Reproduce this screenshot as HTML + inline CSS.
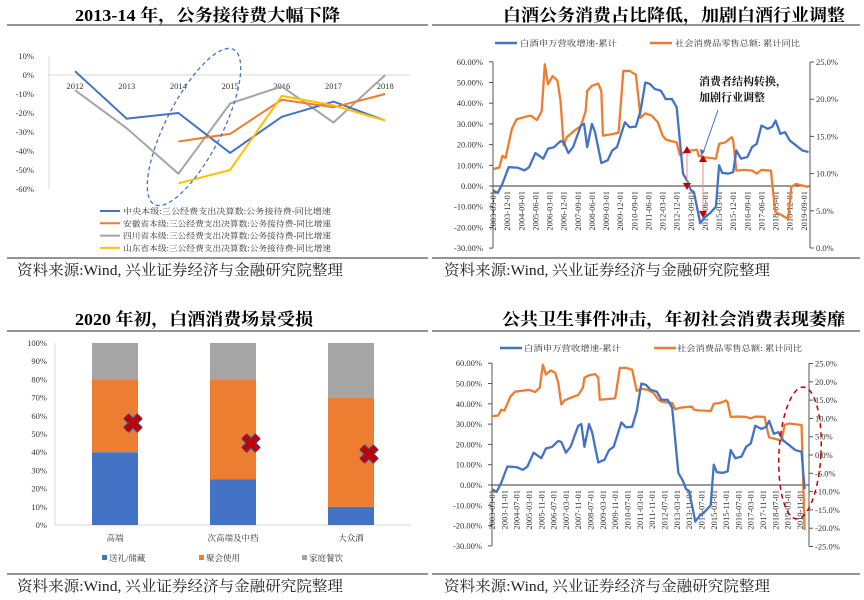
<!DOCTYPE html>
<html><head><meta charset="utf-8">
<style>
html,body{margin:0;padding:0;background:#fff;}
svg{display:block;font-family:"Liberation Serif","Noto Serif CJK SC",serif;}
.t{font-weight:bold;font-size:17px;fill:#000;}
.src{font-size:15px;fill:#222;}
.tk{font-size:8.5px;fill:#333;}
.lg{font-size:8px;fill:#333;}
</style></head>
<body>
<svg id="root" width="864" height="600" viewBox="0 0 864 600" xmlns="http://www.w3.org/2000/svg">
  <rect width="864" height="600" fill="#fff"/>
  <!-- titles -->
  <text class="t" x="75" y="21" textLength="265" lengthAdjust="spacingAndGlyphs">2013-14 年，公务接待费大幅下降</text>
  <text class="t" x="503" y="21" textLength="342" lengthAdjust="spacingAndGlyphs">白酒公务消费占比降低，加剧白酒行业调整</text>
  <text class="t" x="75" y="325" textLength="238" lengthAdjust="spacingAndGlyphs">2020 年初，白酒消费场景受损</text>
  <text class="t" x="502" y="325" textLength="343" lengthAdjust="spacingAndGlyphs">公共卫生事件冲击，年初社会消费表现萎靡</text>
  <!-- rules -->
  <g stroke="#555" stroke-width="1.2">
    <line x1="7" y1="25" x2="428" y2="25"/><line x1="432" y1="25" x2="860" y2="25"/>
    <line x1="7" y1="258" x2="428" y2="258"/><line x1="432" y1="258" x2="860" y2="258"/>
    <line x1="7" y1="331" x2="428" y2="331"/><line x1="432" y1="331" x2="860" y2="331"/>
    <line x1="7" y1="574" x2="428" y2="574"/><line x1="432" y1="574" x2="860" y2="574"/>
  </g>
  <!-- sources -->
  <text class="src" x="17" y="275" textLength="326" lengthAdjust="spacingAndGlyphs">资料来源:Wind, 兴业证券经济与金融研究院整理</text>
  <text class="src" x="444" y="275" textLength="326" lengthAdjust="spacingAndGlyphs">资料来源:Wind, 兴业证券经济与金融研究院整理</text>
  <text class="src" x="17" y="591" textLength="326" lengthAdjust="spacingAndGlyphs">资料来源:Wind, 兴业证券经济与金融研究院整理</text>
  <text class="src" x="444" y="591" textLength="326" lengthAdjust="spacingAndGlyphs">资料来源:Wind, 兴业证券经济与金融研究院整理</text>

  <g id="c1"></g>
  <g id="c2"></g>
  <g id="c3"></g>
  <g id="c4"></g>

  <!-- annotations -->
  <ellipse cx="194" cy="127" rx="28" ry="87" transform="rotate(27 194 127)" fill="none" stroke="#4472C4" stroke-width="1.3" stroke-dasharray="4,3"/>
  <text x="699" y="85" font-size="11" font-weight="bold" fill="#111">消费者结构转换，</text>
  <text x="699" y="101" font-size="11" font-weight="bold" fill="#111">加剧行业调整</text>
  <line x1="718" y1="110" x2="703" y2="153" stroke="#4472C4" stroke-width="1"/>
  <polygon points="701,156 700,149 705,151" fill="#4472C4"/>
  <g>
    <line x1="687" y1="150" x2="687" y2="185" stroke="#E88" stroke-width="1"/>
    <polygon points="683,153 691,153 687,146" fill="#C00000"/>
    <polygon points="683,183 691,183 687,190" fill="#C00000"/>
    <line x1="703" y1="159" x2="703" y2="213" stroke="#E88" stroke-width="1"/>
    <polygon points="699,162 707,162 703,155" fill="#C00000"/>
    <polygon points="699,211 707,211 703,218" fill="#C00000"/>
  </g>
  <ellipse cx="800" cy="453" rx="21" ry="66" transform="rotate(3 800 453)" fill="none" stroke="#C00000" stroke-width="1.5" stroke-dasharray="5,4"/>
</svg>
<script>
// ---------- Chart 1 data ----------
const c1Years = ["2012","2013","2014","2015","2016","2017","2018"];
const c1Central = [2,-23,-20,-41,-22,-14,-24];
const c1Anhui = [null,null,-35,-31,-13,-17,-10];
const c1Sichuan = [-8,-28,-52,-15,-6,-25,0];
const c1Shandong = [null,null,-57,-50,-11,-16,-24];
const c1Ticks = [10,0,-10,-20,-30,-40,-50,-60];
const c1Names = ["中央本级:三公经费支出决算数:公务接待费-同比增速","安徽省本级:三公经费支出决算数:公务接待费-同比增速","四川省本级:三公经费支出决算数:公务接待费-同比增速","山东省本级:三公经费支出决算数:公务接待费-同比增速"];

// ---------- Chart 2/4 data ----------
const baijiuDates = ["2003-03","2003-06","2003-09","2004-01","2004-07","2004-11","2005-02","2005-06","2005-11","2006-02","2006-06","2006-10","2006-12","2007-03","2007-06","2007-11","2008-01","2008-03","2008-06","2008-08","2008-12","2009-04","2009-07","2009-10","2010-03","2010-06","2010-10","2011-01","2011-04","2011-07","2011-10","2012-02","2012-05","2012-09","2012-12","2013-03","2013-04","2013-07","2013-09","2013-11","2014-03","2014-06","2014-09","2015-01","2015-03","2015-05","2015-09","2015-12","2016-02","2016-05","2016-09","2016-12","2017-03","2017-06","2017-10","2018-01","2018-03","2018-06","2018-09","2018-12","2019-04","2019-08","2019-12"];
const baijiuValues = [-2.1,-3.4,1.1,9.1,8.8,7.5,9.1,15.9,13.2,18,18.8,21.7,21.2,15.9,18.8,29.2,30,18.8,30,26,11.1,12.4,17.2,18.8,30.8,28.4,28.7,36.4,50,49.3,46.9,46,42,42,38,14,6,2,-2,-3,-18,-15,-13.3,-10,10,6.3,6,6.7,17.2,13.2,14,18.8,20.4,29.2,27.6,28.7,31.6,25.2,26,22,19.6,17.2,16.4];
const retailDates = ["2003-03","2003-07","2003-09","2003-11","2004-03","2004-06","2004-11","2005-03","2005-07","2005-10","2005-12","2006-02","2006-05","2006-08","2006-10","2006-12","2007-02","2007-07","2007-11","2008-02","2008-03","2008-06","2008-10","2008-12","2009-01","2009-07","2009-11","2010-02","2010-06","2010-10","2011-01","2011-04","2011-08","2011-12","2012-03","2012-05","2012-08","2012-12","2013-02","2013-05","2013-09","2014-01","2014-02","2014-05","2014-10","2015-01","2015-03","2015-07","2015-11","2015-12","2016-02","2016-07","2016-12","2017-03","2017-06","2017-12","2018-02","2018-03","2018-07","2018-11","2019-01","2019-04","2019-08","2019-12"];
const retailValues = [10.6,10.8,12.4,12.1,16,17.3,17.6,17.8,17.2,18.4,24.7,22,23.1,22.5,19.8,13.8,14.9,15.8,16.4,18.4,21.1,21.8,22.1,21.1,15.1,15.3,15.5,23.8,23.8,23.3,17.5,18.1,17.8,16.9,15.1,14.6,14.4,14.2,12.5,12.9,13.1,13.2,12.4,12.2,12.1,12,14,14.2,14.9,14.4,10.4,10.5,10.4,10,10.5,10.4,6.4,4.8,4.4,3.9,8.2,8.6,8.4,8.2];
const c4ExtraDates = ["2020-02"];
const c4ExtraBaijiu = [-2];
const c4ExtraRetail = [-20.5];
const c2LeftTicks = [60,50,40,30,20,10,0,-10,-20,-30];
const c2RightTicks = [25,20,15,10,5,0];
const c4RightTicks = [25,20,15,10,5,0,-5,-10,-15,-20,-25];
const c2DateLabels = ["2003-03-01","2003-12-01","2004-09-01","2005-06-01","2006-03-01","2006-12-01","2007-09-01","2008-06-01","2009-03-01","2009-12-01","2010-09-01","2011-06-01","2012-03-01","2012-12-01","2013-09-01","2014-06-01","2015-03-01","2015-12-01","2016-09-01","2017-06-01","2018-03-01","2018-12-01","2019-09-01"];
const c4DateLabels = ["2003-03-01","2003-11-01","2004-07-01","2005-03-01","2005-11-01","2006-07-01","2007-03-01","2007-11-01","2008-07-01","2009-03-01","2009-11-01","2010-07-01","2011-03-01","2011-11-01","2012-07-01","2013-03-01","2013-11-01","2014-07-01","2015-03-01","2015-11-01","2016-07-01","2017-03-01","2017-11-01","2018-07-01","2019-03-01","2019-11-01"];

// ---------- Chart 3 data ----------
const c3Cats = ["高端","次高端及中档","大众酒"];
const c3Gift = [40,25,10];
const c3Party = [40,55,60];
const c3Family = [20,20,30];
const c3Crosses = [56,45,39];
const c3Ticks = [0,10,20,30,40,50,60,70,80,90,100];
const c3Legend = ["送礼/储藏","聚会使用","家庭餐饮"];

const NS = "http://www.w3.org/2000/svg";
function mk(tag, parent, attrs){ const e=document.createElementNS(NS,tag); for(const k in attrs) e.setAttribute(k,attrs[k]); parent.appendChild(e); return e; }
function monthIdx(d){ const [y,m]=d.split("-").map(Number); return (y-2003)*12+(m-3); }
const BLUE="#4472C4", ORANGE="#ED7D31", GRAY="#A5A5A5", YELLOW="#FFC000";

// ===== Chart 1 =====
(function(){
  const g=document.getElementById("c1");
  const x=i=>75+i*51.7, y=v=>75-v*1.9;
  const ax=mk("line",g,{x1:49,y1:y(10),x2:49,y2:y(-60),stroke:"#D9D9D9","stroke-width":1});
  
  
  const zl=mk("line",g,{x1:49,y1:y(0),x2:410,y2:y(0),stroke:"#D9D9D9","stroke-width":1});
  
  
  c1Ticks.forEach(v=>{const t=mk("text",g,{x:34,y:y(v)+3,"text-anchor":"end",class:"tk"});t.textContent=v+"%";
    
    });
  c1Years.forEach((s,i)=>{const t=mk("text",g,{x:x(i),y:89,"text-anchor":"middle",class:"tk"});t.textContent=s;
    
    });
  const series=[[c1Central,BLUE],[c1Anhui,ORANGE],[c1Sichuan,GRAY],[c1Shandong,YELLOW]];
  const order=[2,0,1,3];
  order.forEach(si=>{const [vals,col]=series[si];
    const pts=vals.map((v,i)=>v===null?null:x(i)+","+y(v)).filter(p=>p);
    const p=mk("polyline",g,{points:pts.join(" "),fill:"none",stroke:col,"stroke-width":2,"stroke-linejoin":"round"});
    
    });
  series.forEach(([vals,col],i)=>{const yy=211+i*12.3;
    const l=mk("line",g,{x1:100,y1:yy,x2:120,y2:yy,stroke:col,"stroke-width":2});
    
    
    const t=mk("text",g,{x:123,y:yy+3,class:"lg",textLength:208,lengthAdjust:"spacingAndGlyphs"});t.textContent=c1Names[i];
    
    });
})();

// ===== dual-axis line chart =====
function dualChart(gid, cfg){
  const g=document.getElementById(gid);
  const x=m=>cfg.x0+m*cfg.dx, yL=v=>cfg.yL0-v*cfg.kL, yR=v=>cfg.yR0-v*cfg.kR;
  const a1=mk("line",g,{x1:cfg.x0,y1:yL(60),x2:cfg.x0,y2:yL(-30),stroke:"#555","stroke-width":1});
  
  
  const a2=mk("line",g,{x1:cfg.xr,y1:yR(cfg.rTicks[0]),x2:cfg.xr,y2:yR(cfg.rTicks[cfg.rTicks.length-1]),stroke:"#555","stroke-width":1});
  
  
  const a3=mk("line",g,{x1:cfg.x0,y1:yL(0),x2:cfg.xr,y2:yL(0),stroke:"#333","stroke-width":1});
  
  
  c2LeftTicks.forEach(v=>{mk("line",g,{x1:cfg.x0-4,y1:yL(v),x2:cfg.x0,y2:yL(v),stroke:"#555"});
    const t=mk("text",g,{x:cfg.x0-10,y:yL(v)+3,"text-anchor":"end",class:"tk"});t.textContent=v.toFixed(2)+"%";
    
    });
  cfg.rTicks.forEach(v=>{mk("line",g,{x1:cfg.xr,y1:yR(v),x2:cfg.xr+4,y2:yR(v),stroke:"#555"});
    const t=mk("text",g,{x:cfg.xr+6,y:yR(v)+3,class:"tk"});t.textContent=v.toFixed(1)+"%";
    
    });
  cfg.labels.forEach(s=>{const m=monthIdx(s.slice(0,7)); const xx=x(m)+3;
    const t=mk("text",g,{transform:`translate(${xx},${yL(0)+5}) rotate(-90)`,"text-anchor":"end",class:"tk","font-size":"8"});t.textContent=s;
    
    });
  const pr=cfg.rDates.map((d,i)=>x(monthIdx(d))+","+yR(cfg.rVals[i])).join(" ");
  const lo=mk("polyline",g,{points:pr,fill:"none",stroke:ORANGE,"stroke-width":2.3,"stroke-linejoin":"round"});
  
  
  const pb=cfg.bDates.map((d,i)=>x(monthIdx(d))+","+yL(cfg.bVals[i])).join(" ");
  const lb=mk("polyline",g,{points:pb,fill:"none",stroke:BLUE,"stroke-width":2.3,"stroke-linejoin":"round"});
  
  
  const lg=cfg.legend;
  const s1=mk("line",g,{x1:lg[0],y1:lg[4],x2:lg[0]+22,y2:lg[4],stroke:BLUE,"stroke-width":2.5});
  
  
  const t1=mk("text",g,{x:lg[1],y:lg[4]+3,class:"lg",textLength:97,lengthAdjust:"spacingAndGlyphs"});t1.textContent="白酒申万营收增速-累计";
  
  
  const s2=mk("line",g,{x1:lg[2],y1:lg[4],x2:lg[2]+22,y2:lg[4],stroke:ORANGE,"stroke-width":2.5});
  
  
  const t2=mk("text",g,{x:lg[3],y:lg[4]+3,class:"lg",textLength:125,lengthAdjust:"spacingAndGlyphs"});t2.textContent="社会消费品零售总额: 累计同比";
  
  
}
dualChart("c2",{x0:493,dx:1.57,xr:810,yL0:186,kL:2.07,yR0:248,kR:7.44,rTicks:c2RightTicks,labels:c2DateLabels,
  bDates:baijiuDates,bVals:baijiuValues,rDates:retailDates,rVals:retailValues,legend:[495,520,650,675,43]});
dualChart("c4",{x0:492,dx:1.54,xr:809,yL0:485,kL:2.03,yR0:455,kR:3.66,rTicks:c4RightTicks,labels:c4DateLabels,
  bDates:baijiuDates.concat(c4ExtraDates),bVals:baijiuValues.concat(c4ExtraBaijiu),
  rDates:retailDates.concat(c4ExtraDates),rVals:retailValues.concat(c4ExtraRetail),legend:[500,524,654,677,348]});

// ===== Chart 3 =====
(function(){
  const g=document.getElementById("c3");
  const y=v=>525-v*1.82, bx=[92,210,328], bw=46;
  const ax=mk("line",g,{x1:55,y1:y(100),x2:55,y2:y(0),stroke:"#D9D9D9"});
  
  
  const bxl=mk("line",g,{x1:55,y1:y(0),x2:411,y2:y(0),stroke:"#D9D9D9"});
  
  
  c3Ticks.forEach(v=>{const t=mk("text",g,{x:47,y:y(v)+3,"text-anchor":"end",class:"tk"});t.textContent=v+"%";
    
    });
  c3Cats.forEach((c,i)=>{
    let base=0;
    [[c3Gift,"#4472C4"],[c3Party,"#ED7D31"],[c3Family,"#A5A5A5"]].forEach(([arr,col])=>{
      const r=mk("rect",g,{x:bx[i],y:y(base+arr[i]),width:bw,height:y(base)-y(base+arr[i]),fill:col});
      
      
      base+=arr[i];});
    const t=mk("text",g,{x:bx[i]+bw/2,y:541,"text-anchor":"middle",class:"tk","font-size":"9"});t.textContent=c;
    
    
    const cx=bx[i]+bw-5, cy=y(c3Crosses[i]);
    const d=`M${cx-7},${cy-7}L${cx+7},${cy+7}M${cx+7},${cy-7}L${cx-7},${cy+7}`;
    mk("path",g,{d:d,stroke:"#2F4E9C","stroke-width":8,"stroke-linecap":"butt"});
    const xm=mk("path",g,{d:d,stroke:"#C00000","stroke-width":5.5,"stroke-linecap":"butt"});
    
    
  });
  const lx=[102,199,302], cols=["#4472C4","#ED7D31","#A5A5A5"];
  c3Legend.forEach((s,i)=>{
    const r=mk("rect",g,{x:lx[i],y:555,width:5,height:5,fill:cols[i]});
    
    
    const t=mk("text",g,{x:lx[i]+7,y:561,class:"tk","font-size":"9"});t.textContent=s;
    
    });
})();
</script>
</body></html>
